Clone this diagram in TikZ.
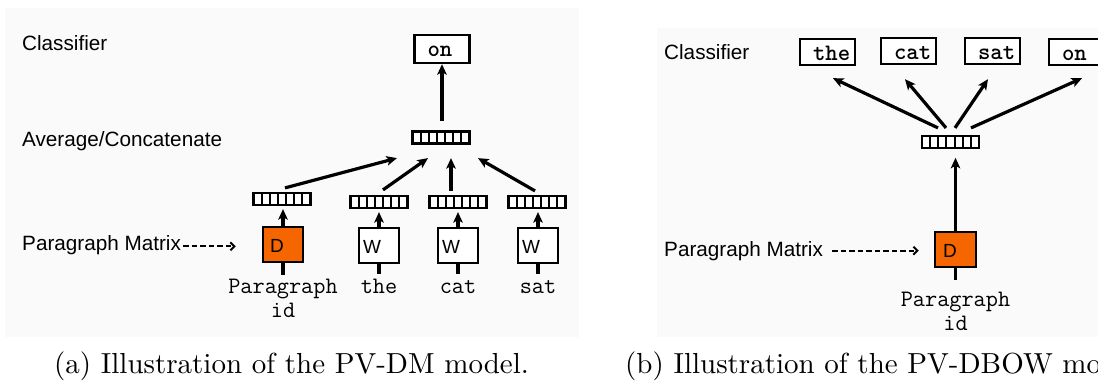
\documentclass[tikz,border=0pt]{standalone}
\usepackage{fontspec}
\usepackage{graphicx}
\usetikzlibrary{arrows.meta,calc}
\newfontfamily\lsans{Liberation Sans}
\definecolor{panelbg}{RGB}{250,250,250}
\definecolor{dorange}{RGB}{246,102,0}
\newcommand\sflab{\fontsize{20.7}{24}\lsans}
\newcommand\sflet{\fontsize{19}{22}\lsans}
\newcommand\ttword{\fontsize{23.6}{24}\ttfamily}
\newcommand\ttbold{\fontsize{23.6}{24}\ttfamily\bfseries}
% word inside a classifier box, set 13pt from the left edge
\newcommand\bword[1]{\makebox[55pt][l]{\hspace*{13pt}#1}}
\begin{document}
\begin{tikzpicture}[x=1pt,y=-1pt,
  box/.style={draw, line width=2.4pt, inner sep=0pt},
  wordbox/.style={box, fill=white, minimum height=26pt, text height=16pt, text depth=0pt, font=\ttbold},
  wbox/.style={box, fill=white, minimum width=40pt, minimum height=35pt, text height=16pt, text depth=0pt, font=\sflet},
  dbox/.style={wbox, fill=dorange},
  vecbox/.style={draw, fill=white, line width=2.2pt, minimum width=57pt, minimum height=12pt, inner sep=0pt,
    path picture={\foreach \k in {1,...,6}{\draw[line width=2pt]
      ([xshift=\k*8.142857pt]path picture bounding box.south west) --
      ([xshift=\k*8.142857pt]path picture bounding box.north west);}}},
  arr/.style={line width=3.2pt, -{Stealth[length=10.5pt,width=9.5pt,inset=2.5pt]}},
  stem/.style={line width=3.3pt},
  dasharr/.style={line width=2pt, dash pattern=on 5.5pt off 3pt, -{Straight Barb[length=4pt,width=8pt]}},
  lab/.style={anchor=base west, inner sep=0pt, font=\sflab},
  wordlab/.style={anchor=base, inner sep=0pt, text height=14.5pt, text depth=0pt, font=\ttword},
  pidlab/.style={anchor=north, inner sep=0pt, align=center, font=\ttword},
  caption/.style={anchor=base west, inner sep=0pt},
]
\useasboundingbox (0,0) rectangle (1098,383);
\clip (0,0) rectangle (1098,383);

% panel backgrounds
\fill[panelbg] (5,8) rectangle (579,337);
\fill[panelbg] (657,28) rectangle (1100,337);

% ---------- PV-DM ----------
\node[lab] (clsA) at (22,50) {Classifier};
\node[lab] (avgLabA) at (22,146.7) {Average/Concatenate};
\node[lab] (pmA) at (22,250.7) {Paragraph Matrix};

\node[wordbox] (onA) at (442,49) [minimum height=28pt, text height=15.5pt] {\bword{on}};
\node[vecbox] (avgA) at (441,137.5) {};

\node[vecbox] (vA1) at (282,199) {};
\node[vecbox] (vA2) at (379,202) {};
\node[vecbox] (vA3) at (458,202) {};
\node[vecbox] (vA4) at (537,202) {};

\node[dbox] (dA) at (283,244.5) {\makebox[40pt][l]{\hspace*{7pt}D}};
\node[wbox] (wA1) at (379,245.5) {\makebox[40pt][l]{\hspace*{4pt}W}};
\node[wbox] (wA2) at (458,245.5) {\makebox[40pt][l]{\hspace*{4pt}W}};
\node[wbox] (wA3) at (538,245.5) {\makebox[40pt][l]{\hspace*{4pt}W}};

\node[pidlab] (pidA) at (283,279) {Paragraph\\id};
\node[wordlab] (tA1) at (379,293) {the};
\node[wordlab] (tA2) at (458,293) {cat};
\node[wordlab] (tA3) at (538,293) {sat};

\draw[arr, shorten <=9.5pt] (onA.south |- avgA.north) -- (onA.south);

\draw[arr] ([xshift=3pt,yshift=4pt]vA1.north) -- ([xshift=-44pt,yshift=-13.5pt]avgA.south);
\draw[arr] ([xshift=4pt,yshift=5pt]vA2.north) -- ([xshift=-13pt,yshift=-13.5pt]avgA.south);
\draw[arr] ([xshift=-7pt,yshift=4pt]vA3.north) -- ([xshift=10pt,yshift=-13.5pt]avgA.south);
\draw[arr] ([xshift=-2pt,yshift=4pt]vA4.north) -- ([xshift=37pt,yshift=-13.5pt]avgA.south);

\draw[arr, shorten >=3pt] (dA.north) -- (dA.north |- vA1.south);
\draw[arr, shorten >=3pt] (wA1.north) -- (wA1.north |- vA2.south);
\draw[arr, shorten >=3pt] (wA2.north) -- (wA2.north |- vA3.south);
\draw[arr, shorten >=3pt] (wA3.north) -- (wA3.north |- vA4.south);

\draw[stem, shorten >=4.5pt] (dA.south) -- (dA.south |- pidA.north);
\draw[stem, shorten >=4.5pt] (wA1.south) -- (tA1.north);
\draw[stem, shorten >=4.5pt] (wA2.south) -- (tA2.north);
\draw[stem, shorten >=4.5pt] (wA3.south) -- (tA3.north);

\draw[dasharr, shorten <=2pt, shorten >=26pt] ([yshift=-1pt]pmA.east) -- ([yshift=-1pt]pmA.east -| dA.west);

% ---------- PV-DBOW ----------
\node[lab] (clsB) at (664,59.3) {Classifier};
\node[lab] (pmB) at (664,256) {Paragraph Matrix};

\node[wordbox, minimum width=55pt] (theB) at (827.5,52) {\bword{the}};
\node[wordbox, minimum width=55pt] (catB) at (908.5,51) {\bword{cat}};
\node[wordbox, minimum width=55pt] (satB) at (992.5,51) {\bword{sat}};
\node[wordbox, minimum width=55pt] (onB) at (1076.5,52) {\bword{on}};

\node[vecbox] (rv) at (950.5,142) {};
\node[dbox, minimum width=41pt] (dB) at (955.5,249.5) {\makebox[41pt][l]{\hspace*{8pt}D}};
\node[pidlab] (pidB) at (955.5,291.7) {Paragraph\\id};

\draw[arr] ([xshift=-12.5pt,yshift=7pt]rv.north) -- ([xshift=5.5pt,yshift=-12pt]theB.south);
\draw[arr] ([xshift=-4.5pt,yshift=7pt]rv.north) -- ([xshift=-3.5pt,yshift=-14pt]catB.south);
\draw[arr] ([xshift=4.5pt,yshift=7pt]rv.north) -- ([xshift=-4.5pt,yshift=-14pt]satB.south);
\draw[arr] ([xshift=20.5pt,yshift=7pt]rv.north) -- ([xshift=5.5pt,yshift=-12pt]onB.south);

\draw[arr, shorten >=8.7pt] (dB.north) -- (dB.north |- rv.south);
\draw[stem, shorten >=11.7pt] (dB.south) -- (dB.south |- pidB.north);

\draw[dasharr, shorten <=9pt, shorten >=15pt] (pmB.east) -- (pmB.east -| dB.west);

% ---------- captions ----------
\node[caption] (capA) at (54,373) {\scalebox{2.9}{(a) Illustration of the PV-DM model.}};
\node[caption] (capB) at (625,373) {\scalebox{2.9}{(b) Illustration of the PV-DBOW model.}};
\end{tikzpicture}
\end{document}
